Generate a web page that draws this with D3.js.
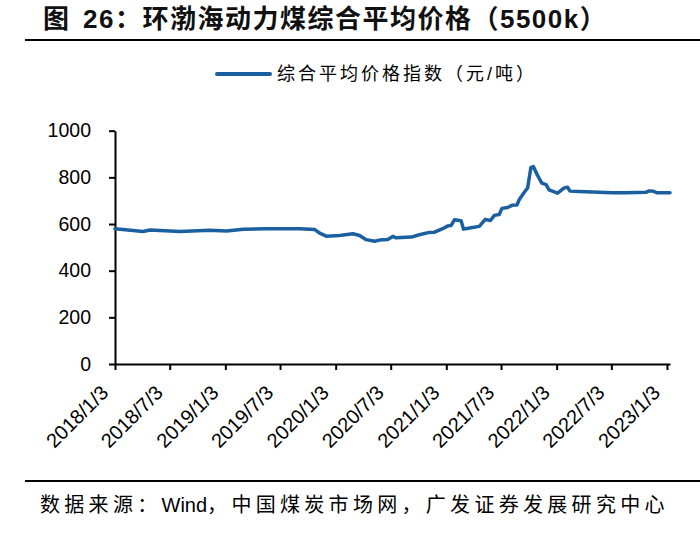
<!DOCTYPE html>
<html>
<head>
<meta charset="utf-8">
<script src="https://cdn.jsdelivr.net/npm/d3@7"></script>
<style>
    body { margin: 0; background: #fff; }
    svg { display: block; }
</style>
</head>
<body>
<div id="chart"></div>
<script>
// price index, yuan/ton
var dates = [
    "2018-01-03", "2018-04-06", "2018-04-29", "2018-08-06", "2018-11-13", "2019-01-07",
    "2019-03-03", "2019-05-19", "2019-09-06", "2019-10-25", "2019-11-11", "2019-12-03",
    "2020-01-16", "2020-02-29", "2020-03-22", "2020-04-13", "2020-05-11", "2020-05-27",
    "2020-06-23", "2020-07-10", "2020-07-21", "2020-09-09", "2020-10-06", "2020-11-08",
    "2020-11-25", "2020-12-22", "2021-01-08", "2021-01-19", "2021-01-30", "2021-02-21",
    "2021-03-01", "2021-03-26", "2021-04-22", "2021-05-12", "2021-05-29", "2021-06-11",
    "2021-06-27", "2021-07-06", "2021-07-25", "2021-08-10", "2021-08-25", "2021-09-01",
    "2021-09-18", "2021-09-29", "2021-10-10", "2021-10-18", "2021-11-01", "2021-11-15",
    "2021-11-29", "2021-12-09", "2022-01-06", "2022-01-28", "2022-02-08", "2022-02-16",
    "2022-03-19", "2022-05-01", "2022-07-06", "2022-08-20", "2022-10-25", "2022-11-05",
    "2022-11-18", "2022-12-02", "2023-01-13"
];
var prices = [
    580, 568, 574, 568, 573, 570,
    578, 580, 580, 577, 561, 548,
    551, 558, 551, 533, 526, 531,
    534, 547, 541, 544, 554, 564,
    565, 580, 592, 594, 618, 614,
    578, 584, 590, 620, 615, 637,
    641, 667, 671, 681, 682, 704,
    736, 755, 843, 846, 808, 775,
    769, 746, 732, 755, 758, 741,
    739, 737, 734, 734, 736, 742,
    741, 734, 734
];
var tickLabels = ["2018/1/3", "2018/7/3", "2019/1/3", "2019/7/3", "2020/1/3", "2020/7/3",
    "2021/1/3", "2021/7/3", "2022/1/3", "2022/7/3", "2023/1/3"];
var yTicks = [0, 200, 400, 600, 800, 1000];

var titleHead = "图";
var titleRest = "26：环渤海动力煤综合平均价格（5500k）";
var legendText = "综合平均价格指数（元/吨）";
var sourceParts = ["数据来源：", "Wind", "，中国煤炭市场网，广发证券发展研究中心"];

var lineColor = "#1a5fa0";
var fontFamily = "'Liberation Sans', Arial, 'Noto Sans CJK SC', sans-serif";

function draw() {
    var margin = { top: 130.7, right: 30, bottom: 170, left: 115 },
        width = 700,
        height = 534;

    var svg = d3.select("#chart")
        .append("svg")
        .attr("width", width)
        .attr("height", height)
        .style("font-family", fontFamily);

    var parse = d3.timeParse("%Y-%m-%d");
    var tickParse = d3.timeParse("%Y/%m/%d");
    var data = dates.map(function (d, i) {
        return { date: parse(d), value: prices[i] };
    });

    // title + rule
    var title = svg.append("text")
        .attr("y", 28)
        .attr("font-size", "26px")
        .attr("font-weight", "bold")
        .attr("letter-spacing", "1.5px")
        .attr("fill", "#111");
    title.append("tspan").attr("x", 43).text(titleHead);
    title.append("tspan").attr("x", 83).text(titleRest);
    svg.append("line")
        .attr("x1", 25).attr("x2", 700)
        .attr("y1", 40).attr("y2", 40)
        .attr("stroke", "#000")
        .attr("stroke-width", 2);

    // legend
    svg.append("line")
        .attr("x1", 217).attr("x2", 270)
        .attr("y1", 74).attr("y2", 74)
        .attr("stroke", lineColor)
        .attr("stroke-width", 4)
        .attr("stroke-linecap", "round");
    svg.append("text")
        .attr("x", 277)
        .attr("y", 80)
        .attr("font-size", "18px")
        .attr("letter-spacing", "3px")
        .attr("fill", "#000")
        .text(legendText);

    var x = d3.scaleTime()
        .domain([parse("2018-01-03"), parse("2023-01-13")])
        .range([margin.left, 670]);
    var y = d3.scaleLinear()
        .domain([0, 1000])
        .range([364, margin.top]);

    // y axis
    var yAxis = svg.append("g")
        .attr("transform", "translate(" + margin.left + ",0)")
        .call(d3.axisLeft(y).tickValues(yTicks).tickFormat(d3.format("d"))
            .tickSize(6).tickSizeOuter(0).tickPadding(18));
    yAxis.selectAll("text")
        .attr("font-size", "19.5px")
        .attr("fill", "#000");

    // x axis
    var xAxis = svg.append("g")
        .attr("transform", "translate(0,364)")
        .call(d3.axisBottom(x)
            .tickValues(tickLabels.map(function (t) { return tickParse(t); }))
            .tickFormat(function (d, i) { return tickLabels[i]; })
            .tickSize(6)
            .tickSizeOuter(0));
    xAxis.selectAll("text")
        .attr("font-size", "20px")
        .attr("fill", "#000")
        .attr("text-anchor", "end")
        .attr("dy", null)
        .attr("y", 0)
        .attr("transform", "translate(-6,30) rotate(-45)");

    svg.selectAll(".domain, .tick line")
        .attr("stroke", "#000")
        .attr("stroke-width", 2);

    // price line
    svg.append("path")
        .datum(data)
        .attr("fill", "none")
        .attr("stroke", lineColor)
        .attr("stroke-width", 3.5)
        .attr("stroke-linejoin", "round")
        .attr("stroke-linecap", "round")
        .attr("d", d3.line()
            .x(function (d) { return x(d.date); })
            .y(function (d) { return y(d.value); }));

    // source
    svg.append("line")
        .attr("x1", 25).attr("x2", 700)
        .attr("y1", 481).attr("y2", 481)
        .attr("stroke", "#000")
        .attr("stroke-width", 2);
    var src = svg.append("text")
        .attr("x", 40)
        .attr("y", 512)
        .attr("font-size", "20px")
        .attr("fill", "#000");
    src.selectAll("tspan")
        .data(sourceParts)
        .enter()
        .append("tspan")
        .attr("letter-spacing", function (d, i) { return i == 1 ? "0px" : "4.3px"; })
        .text(function (d) { return d; });
}
draw();
</script>
</body>
</html>
